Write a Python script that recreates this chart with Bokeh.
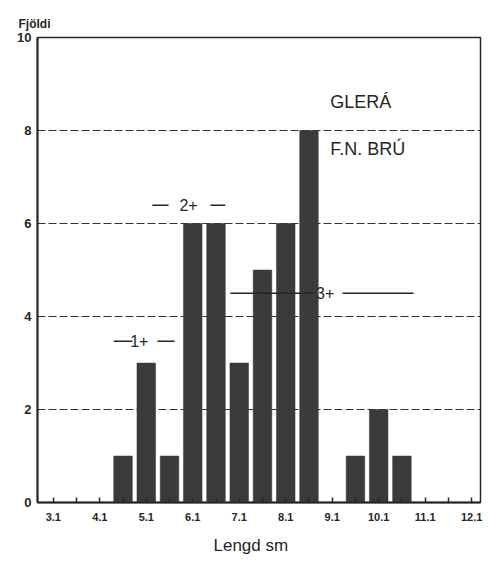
from bokeh.plotting import figure
from bokeh.models import FixedTicker, Label, Title
from bokeh.core.properties import value
from bokeh.embed import file_html
from bokeh.resources import INLINE

# Length classes (cm, bin centres) and number of fish
lengths = [4.6, 5.1, 5.6, 6.1, 6.6, 7.1, 7.6, 8.1, 8.6, 9.1, 9.6, 10.1, 10.6]
counts = [1, 3, 1, 6, 6, 3, 5, 6, 8, 0, 1, 2, 1]

# Axis ticks
x_tick_values = [3.1, 4.1, 5.1, 6.1, 7.1, 8.1, 9.1, 10.1, 11.1, 12.1]
x_tick_labels = ["3.1", "4.1", "5.1", "6.1", "7.1", "8.1", "9.1", "10.1", "11.1", "12.1"]
x_minor_values = [3.6, 4.6, 5.6, 6.6, 7.6, 8.6, 9.6, 10.6, 11.6]
y_tick_values = [0, 2, 4, 6, 8, 10]
y_grid_values = [2, 4, 6, 8]

# Age-class annotations
age_labels = ["1+", "2+", "3+"]

INK = "#262626"
BAR = "#3b3b3b"
FONT = "Liberation Sans"

p = figure(width=488, height=566, x_range=(2.76, 12.29), y_range=(0, 10),
           output_backend="svg", toolbar_location=None,
           min_border_left=37, min_border_top=37, min_border_right=8,
           min_border_bottom=64)
p.background_fill_color = "white"
p.border_fill_color = "white"
p.outline_line_color = INK
p.outline_line_width = 1.5

p.vbar(x=lengths, top=counts, bottom=0, width=0.4, fill_color=BAR,
       line_color=BAR, line_width=0.5)

# x axis
xax = p.xaxis[0]
xax.ticker = FixedTicker(ticks=x_tick_values, minor_ticks=x_minor_values)
xax.major_label_overrides = {v: l for v, l in zip(x_tick_values, x_tick_labels)}
xax.major_tick_in = 5
xax.major_tick_out = 0
xax.minor_tick_in = 5
xax.minor_tick_out = 0
xax.major_tick_line_color = INK
xax.minor_tick_line_color = INK
xax.major_tick_line_width = 1.5
xax.minor_tick_line_width = 1.5
xax.axis_line_width = 2
xax.axis_line_color = INK
xax.major_label_text_font = FONT
xax.major_label_text_font_style = "bold"
xax.major_label_text_font_size = "11px"
xax.major_label_text_color = INK
xax.major_label_standoff = 10

# y axis
yax = p.yaxis[0]
yax.ticker = FixedTicker(ticks=y_tick_values)
yax.major_tick_in = 0
yax.major_tick_out = 0
yax.minor_tick_in = 0
yax.minor_tick_out = 0
yax.axis_line_width = 2
yax.axis_line_color = INK
yax.major_label_text_font = FONT
yax.major_label_text_font_style = "bold"
yax.major_label_text_font_size = "13px"
yax.major_label_text_color = INK
yax.major_label_standoff = 6

p.xgrid.visible = False
p.ygrid.ticker = FixedTicker(ticks=y_grid_values)
p.ygrid.grid_line_color = "#333333"
p.ygrid.grid_line_dash = "8 3"
p.ygrid.grid_line_width = 1

# Site text
p.add_layout(Label(x=9.06, y=8.62, text="GLERÁ", text_font=FONT,
                   text_font_size="18px", text_color=INK,
                   text_baseline="middle", text_align="left"))
p.add_layout(Label(x=9.06, y=7.61, text="F.N. BRÚ", text_font=FONT,
                   text_font_size="18px", text_color=INK,
                   text_baseline="middle", text_align="left"))

# Age-class markers: 1+, 2+, 3+
p.segment(x0=[4.40, 5.34, 5.23, 6.48, 6.91, 9.32],
          y0=[3.47, 3.47, 6.39, 6.39, 4.5, 4.5],
          x1=[4.80, 5.71, 5.58, 6.80, 8.70, 10.85],
          y1=[3.47, 3.47, 6.39, 6.39, 4.5, 4.5],
          line_color=INK, line_width=1.5)
p.text(x=[4.95, 6.01, 8.95], y=[3.47, 6.39, 4.5], text=age_labels,
       text_font=value(FONT), text_font_size="16px", text_color=INK,
       text_align="center", text_baseline="middle")

# Axis titles (as titles so they are not clipped by the frame)
top_title = Title(text="Fjöldi", align="left", offset=-19,
                  text_font=FONT, text_font_style="bold",
                  text_font_size="12px", text_color=INK, standoff=14)
p.add_layout(top_title, "above")
bottom_title = Title(text="Lengd sm", align="left", offset=176,
                     text_font=FONT, text_font_style="normal",
                     text_font_size="17px", text_color=INK, standoff=20)
p.add_layout(bottom_title, "below")

open("out.html", "w").write(file_html(p, INLINE))
